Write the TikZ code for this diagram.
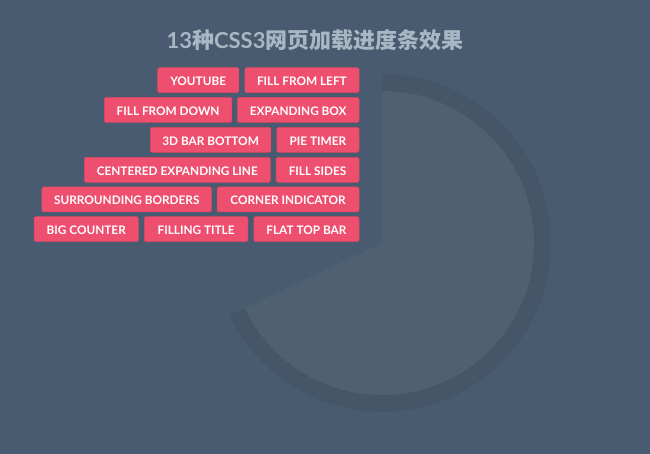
\documentclass[tikz,border=0pt]{standalone}
\usepackage{fontspec}
\setmainfont{Lato}
\newfontfamily\cjk{Noto Sans CJK SC}
\usetikzlibrary{positioning}
\definecolor{bgslate}{HTML}{495B70}
\definecolor{piefill}{HTML}{4F6070}
\definecolor{piering}{HTML}{455668}
\definecolor{btnred}{HTML}{EF4F6F}
\definecolor{btnedge}{HTML}{D9465F}
\definecolor{titlegray}{HTML}{A9B6C4}
\tikzset{
  btn/.style={fill=btnred, draw=btnedge, line width=0.5pt, text=white,
    rounded corners=1.5pt, minimum height=25pt, inner sep=0pt,
    text height=10.9pt, text depth=0pt,
    font=\bfseries\fontsize{11.8}{12}\selectfont, anchor=east},
}

\begin{document}
\begin{tikzpicture}[x=1pt, y=1pt]
  \fill[bgslate] (0,0) rectangle (650,454);
  \useasboundingbox (0,0) rectangle (650,454);
  % pie timer
  \coordinate (c) at (382,211);
  \draw[piering, line width=17pt] ([shift={(90:160.5)}]c)
    arc[start angle=90, end angle=-154.6, radius=160.5];
  \fill[piefill] (c) -- ([shift={(90:152)}]c)
    arc[start angle=90, end angle=-154.6, radius=152] -- cycle;
  % title
  \node[text=titlegray, font=\bfseries\fontsize{22}{24}\selectfont] (title) at (315,413.5)
    {13{\cjk 种}CSS3{\cjk 网页加载进度条效果}};
  % buttons, rows right aligned
  \node[btn, minimum width=114.3pt] (fillleft) at (359.3,373.8) {FILL FROM LEFT};
  \node[btn, minimum width=81.3pt, left=5.4pt of fillleft] (youtube) {YOUTUBE};
  \node[btn, minimum width=121.6pt] (expbox) at (359.3,344) {EXPANDING BOX};
  \node[btn, minimum width=127.7pt, left=5pt of expbox] (filldown) {FILL FROM DOWN};
  \node[btn, minimum width=82.3pt] (pietimer) at (359.3,314.2) {PIE TIMER};
  \node[btn, minimum width=120.7pt, left=5.3pt of pietimer] (bar3d) {3D BAR BOTTOM};
  \node[btn, minimum width=83pt] (fillsides) at (359.3,284.2) {FILL SIDES};
  \node[btn, minimum width=186pt, left=5.3pt of fillsides] (centline) {CENTERED EXPANDING LINE};
  \node[btn, minimum width=142pt] (corner) at (359.3,254.5) {CORNER INDICATOR};
  \node[btn, minimum width=169.6pt, left=5pt of corner] (surround) {SURROUNDING BORDERS};
  \node[btn, minimum width=105.3pt] (flattop) at (359.3,224.8) {FLAT TOP BAR};
  \node[btn, minimum width=103.7pt, left=5.3pt of flattop] (filltitle) {FILLING TITLE};
  \node[btn, minimum width=104.4pt, left=5.3pt of filltitle] (bigcount) {BIG COUNTER};
\end{tikzpicture}
\end{document}
